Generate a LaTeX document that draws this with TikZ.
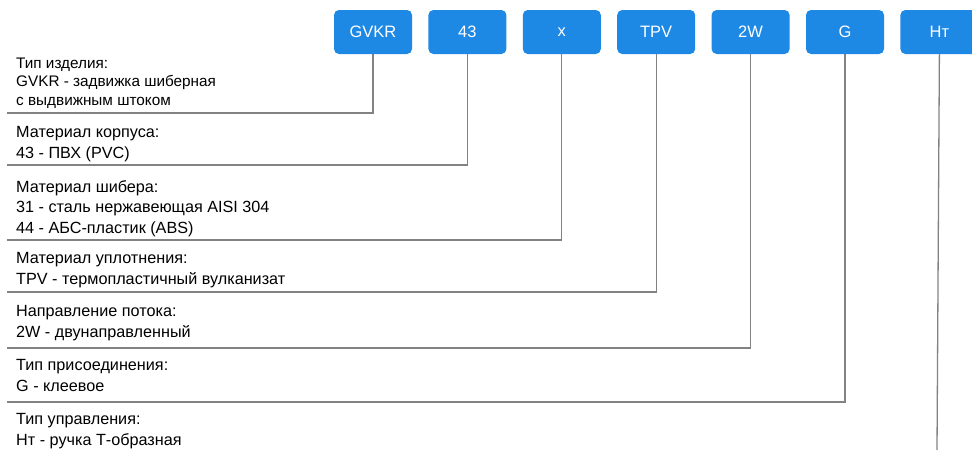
\documentclass[tikz,border=0pt]{standalone}
\usepackage{fontspec}
\setmainfont{Liberation Sans}
\usepackage{tikz}
\usetikzlibrary{positioning}
\usepackage{xcolor}
\definecolor{codeblue}{RGB}{30,136,229}
\definecolor{leadgray}{RGB}{130,130,130}

\begin{document}
\begin{tikzpicture}[x=1pt,y=-1pt,node distance=16pt,
    code/.style={rectangle,rounded corners=5pt,fill=codeblue,text=white,
      minimum width=78pt,minimum height=44pt,inner sep=0pt,
      font=\fontsize{16.5}{20}\selectfont},
    desc/.style={anchor=base west,align=left,inner sep=0pt,
      font=\fontsize{16.2}{20.5}\selectfont},
    lead/.style={draw=leadgray,line width=1.3pt}]
  \useasboundingbox (0,0) rectangle (972,450);
  % code boxes
  \node[code] (gvkr) at (373,32) {GVKR};
  \node[code] (body) [right=of gvkr] {43};
  \node[code] (gate) [right=of body] {x};
  \node[code] (seal) [right=of gate] {TPV};
  \node[code] (flow) [right=of seal] {2W};
  \node[code] (conn) [right=of flow] {G};
  \node[code] (ctrl) [right=of conn] {Нт};
  % descriptions (anchored at the last line)
  \node[desc,font=\fontsize{15.3}{18.5}\selectfont] (dgvkr) at (16,105)
    {Тип изделия:\\GVKR - задвижка шиберная\\с выдвижным штоком};
  \node[desc] (dbody) at (16,158) {Материал корпуса:\\43 - ПВХ (PVC)};
  \node[desc] (dgate) at (16,233)
    {Материал шибера:\\31 - сталь нержавеющая AISI 304\\44 - АБС-пластик (ABS)};
  \node[desc] (dseal) at (16,284) {Материал уплотнения:\\TPV - термопластичный вулканизат};
  \node[desc] (dflow) at (16,337) {Направление потока:\\2W - двунаправленный};
  \node[desc] (dconn) at (16,391) {Тип присоединения:\\G - клеевое};
  \node[desc] (dctrl) at (16,445) {Тип управления:\\Нт - ручка Т-образная};
  % line ends
  \coordinate (egvkr) at (7,113);
  \coordinate (ebody) at (7,165);
  \coordinate (egate) at (7,240);
  \coordinate (eseal) at (7,292);
  \coordinate (eflow) at (7,348);
  \coordinate (econn) at (7,402);
  \coordinate (ectrl) at (937,450);
  \foreach \c in {gvkr,body,gate,seal,flow,conn}
    \draw[lead] (\c.south) |- (e\c);
  \draw[lead] (ctrl.south) -- (ectrl);
\end{tikzpicture}
\end{document}
